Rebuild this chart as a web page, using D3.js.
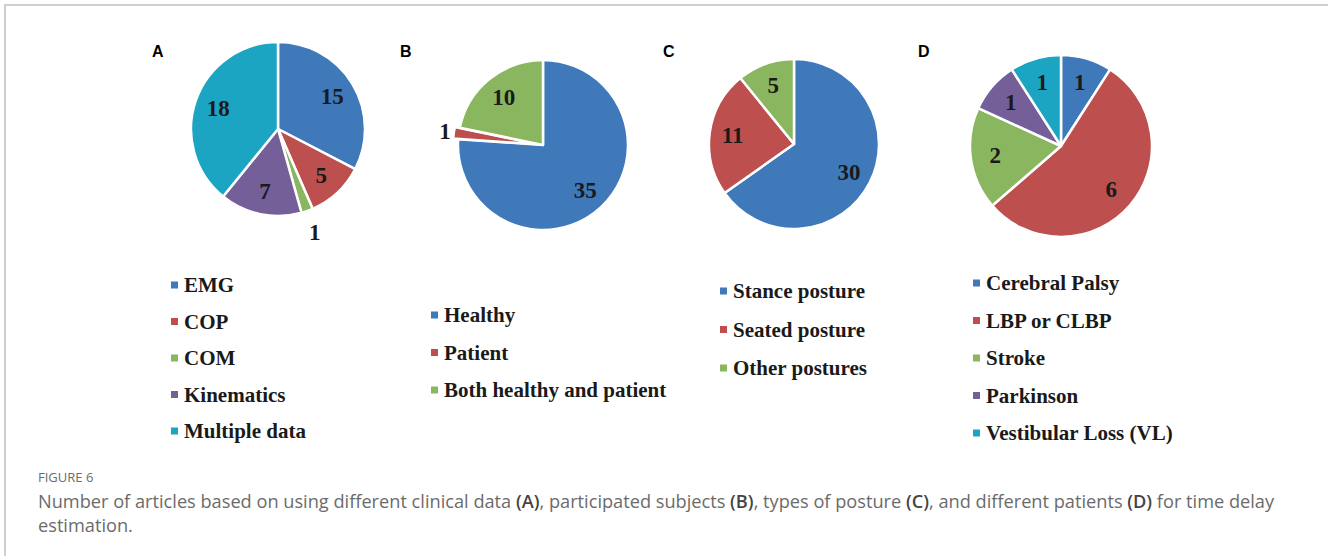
<!DOCTYPE html>
<meta charset="utf-8">
<style>
body { margin: 0; background: #fff; }
svg { display: block; }
.lbl { font-family: "Liberation Serif", "Times New Roman", serif; font-weight: bold; fill: #1a1a1a; }
.panel { font-family: "Liberation Sans", Arial, sans-serif; font-weight: bold; font-size: 16px; fill: #000; }
.cap { font-family: "Open Sans", "Noto Sans", sans-serif; fill: #6b6b6b; }
</style>
<svg width="1328" height="556"></svg>
<script src="https://cdn.jsdelivr.net/npm/d3@7"></script>
<script>

// chart data
var dataA = ["EMG", "COP", "COM", "Kinematics", "Multiple data"]
var valuesA = [15, 5, 1, 7, 18]
var dataB = ["Healthy", "Patient", "Both healthy and patient"]
var valuesB = [35, 1, 10]
var dataC = ["Stance posture", "Seated posture", "Other postures"]
var valuesC = [30, 11, 5]
var dataD = ["Cerebral Palsy", "LBP or CLBP", "Stroke", "Parkinson", "Vestibular Loss (VL)"]
var valuesD = [1, 6, 2, 1, 1]
var panelLetters = ["A", "B", "C", "D"]

var colors = ["#3f79ba", "#bd504e", "#8ab660", "#745f99", "#1ca4c3"]

var svg = d3.select("svg")

// frame
svg.append("path")
  .attr("d", "M5,556 L5,5 L1328,5")
  .attr("fill", "none")
  .attr("stroke", "#cfcfcf")
  .attr("stroke-width", 2)

var panels = [
  { names: dataA, values: valuesA, cx: 278, cy: 129, r: 87, letterX: 152, legX: 171, legY: 285, legStep: 36.5, explode: [] },
  { names: dataB, values: valuesB, cx: 543, cy: 145, r: 85, letterX: 400, legX: 431, legY: 315, legStep: 37.5, explode: [1] },
  { names: dataC, values: valuesC, cx: 794, cy: 144, r: 85, letterX: 663, legX: 720, legY: 291, legStep: 38.5, explode: [] },
  { names: dataD, values: valuesD, cx: 1061, cy: 146, r: 91, letterX: 918, legX: 973, legY: 283, legStep: 37.5, explode: [] }
]

var pie = d3.pie().sort(null).value(function(d){ return d })

panels.forEach(function(p, pi){
  var g = svg.append("g").attr("transform", "translate(" + p.cx + "," + p.cy + ")")
  var arcs = pie(p.values)
  var total = d3.sum(p.values)
  var arc = d3.arc().innerRadius(0).outerRadius(p.r)

  g.selectAll("path")
    .data(arcs)
    .enter().append("path")
      .attr("d", arc)
      .attr("fill", function(d, i){ return colors[i] })
      .attr("stroke", "#fff")
      .attr("stroke-width", 2.5)
      .attr("stroke-linejoin", "round")
      .attr("transform", function(d, i){
        if (p.explode.indexOf(i) < 0) return null
        var a = (d.startAngle + d.endAngle) / 2
        return "translate(" + (5 * Math.sin(a)) + "," + (-5 * Math.cos(a)) + ")"
      })

  g.selectAll("text")
    .data(arcs)
    .enter().append("text")
      .attr("class", "lbl")
      .attr("font-size", 23)
      .attr("text-anchor", "middle")
      .attr("dy", "0.34em")
      .attr("transform", function(d){
        var a = (d.startAngle + d.endAngle) / 2
        var small = d.value / total < 0.04
        var rr = small ? (pi == 0 ? p.r + 23 : p.r + 14) : p.r * 0.73
        return "translate(" + (rr * Math.sin(a)) + "," + (-rr * Math.cos(a)) + ")"
      })
      .text(function(d){ return d.value })

  svg.append("text")
    .attr("class", "panel")
    .attr("x", p.letterX)
    .attr("y", 57)
    .text(panelLetters[pi])

  var leg = svg.append("g")
  var row = leg.selectAll("g")
    .data(p.names)
    .enter().append("g")
      .attr("transform", function(d, i){ return "translate(" + p.legX + "," + (p.legY + i * p.legStep) + ")" })
  row.append("rect")
    .attr("x", 0).attr("y", -3.5)
    .attr("width", 7).attr("height", 7)
    .attr("fill", function(d, i){ return colors[i] })
  row.append("text")
    .attr("class", "lbl")
    .attr("font-size", 21)
    .attr("x", 13)
    .attr("dy", "0.34em")
    .text(function(d){ return d })
})

// caption
svg.append("text")
  .attr("class", "cap")
  .attr("x", 38).attr("y", 482)
  .attr("font-size", 13)
  .attr("fill", "#777")
  .text("FIGURE 6")

var line1 = [
  ["Number of articles based on using different clinical data ", false], ["(A)", true],
  [", participated subjects ", false], ["(B)", true],
  [", types of posture ", false], ["(C)", true],
  [", and different patients ", false], ["(D)", true],
  [" for time delay", false]
]
var t1 = svg.append("text").attr("class", "cap").attr("x", 38).attr("y", 508).attr("font-size", 18.2)
t1.selectAll("tspan").data(line1).enter().append("tspan")
  .attr("font-weight", function(d){ return d[1] ? 600 : 400 })
  .attr("fill", function(d){ return d[1] ? "#444" : null })
  .text(function(d){ return d[0] })

svg.append("text").attr("class", "cap").attr("x", 38).attr("y", 532).attr("font-size", 18.2)
  .text("estimation.")

</script>
